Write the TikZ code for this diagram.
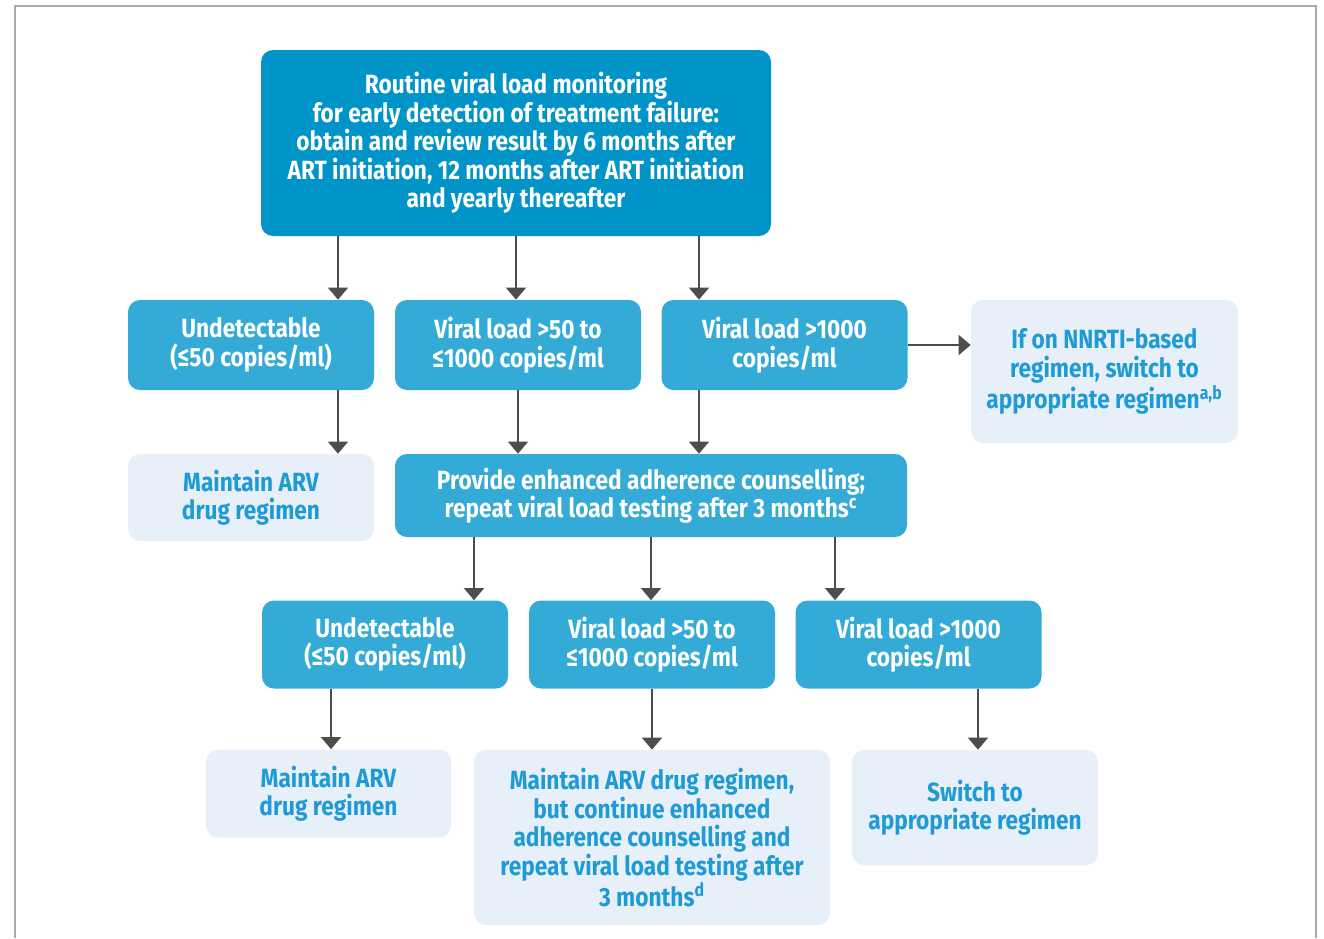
\documentclass[tikz,border=0pt]{standalone}
\usepackage{fontspec}
\setmainfont{Fira Sans}[FakeStretch=0.86]
\usetikzlibrary{arrows.meta}
\definecolor{vldark}{RGB}{0,148,200}
\definecolor{vlmid}{RGB}{51,171,214}
\definecolor{vllight}{RGB}{231,240,248}
\definecolor{vltext}{RGB}{30,155,214}
\definecolor{vlarrow}{RGB}{77,77,77}
\definecolor{vlframe}{RGB}{170,170,170}
\begin{document}
\begin{tikzpicture}[
    box/.style={rectangle, rounded corners=0.24cm, align=center, inner sep=0pt,
        minimum width=4.92cm, minimum height=1.76cm,
        font=\bfseries\fontsize{15}{16.2}\selectfont},
    darkbox/.style={box, fill=vldark, text=white},
    midbox/.style={box, fill=vlmid, text=white},
    lightbox/.style={box, fill=vllight, text=vltext},
    arr/.style={draw=vlarrow, line width=0.85pt, -{Triangle[width=0.4cm,length=0.24cm]}}
]
    \useasboundingbox (0,0) rectangle (26.48,-18.76);
    % frame
    \draw[vlframe, line width=0.04cm] (0.3,-18.76) -- (0.3,-0.12) -- (26.32,-0.12) -- (26.32,-18.76);

    % first test
    \node[darkbox, minimum width=10.2cm, minimum height=3.72cm] (monitor) at (10.32,-2.86)
        {Routine viral load monitoring\\for early detection of treatment failure:\\obtain and review result by 6 months after\\ART initiation, 12 months after ART initiation\\and yearly thereafter};
    \node[midbox, minimum height=1.8cm] (undet) at (5.02,-6.9) {Undetectable\\(≤50 copies/ml)};
    \node[midbox, minimum height=1.8cm] (midload) at (10.36,-6.9) {Viral load >50 to\\≤1000 copies/ml};
    \node[midbox, minimum height=1.8cm] (highload) at (15.69,-6.9) {Viral load >1000\\copies/ml};
    \node[lightbox, minimum width=5.34cm, minimum height=2.86cm] (nnrti) at (22.09,-7.43)
        {If on NNRTI-based\\regimen, switch to\\appropriate regimen\textsuperscript{a,b}};
    \node[lightbox, minimum height=1.74cm] (maintain) at (5.02,-9.95) {Maintain ARV\\drug regimen};
    \node[midbox, minimum width=10.24cm, minimum height=1.66cm] (counsel) at (13.02,-9.91)
        {Provide enhanced adherence counselling;\\repeat viral load testing after 3 months\textsuperscript{c}};

    % repeat test
    \node[midbox] (undetB) at (7.70,-12.89) {Undetectable\\(≤50 copies/ml)};
    \node[midbox] (midloadB) at (13.04,-12.89) {Viral load >50 to\\≤1000 copies/ml};
    \node[midbox] (highloadB) at (18.37,-12.89) {Viral load >1000\\copies/ml};
    \node[lightbox, minimum width=4.9cm] (maintainB) at (6.57,-15.87) {Maintain ARV\\drug regimen};
    \node[lightbox, minimum width=7.12cm, minimum height=3.5cm] (continue) at (13.04,-16.75)
        {Maintain ARV drug regimen,\\but continue enhanced\\adherence counselling and\\repeat viral load testing after\\3 months\textsuperscript{d}};
    \node[lightbox, minimum height=2.3cm] (switch) at (19.5,-16.15) {Switch to\\appropriate regimen};

    % arrows
    \draw[arr] ([xshift=-3.56cm]monitor.south) coordinate (a1) -- (a1 |- undet.north);
    \draw[arr] (monitor.south) -- (monitor.south |- midload.north);
    \draw[arr] ([xshift=3.66cm]monitor.south) coordinate (a2) -- (a2 |- highload.north);
    \draw[arr] (highload.east) -- (highload.east -| nnrti.west);
    \draw[arr] ([xshift=1.74cm]undet.south) coordinate (a3) -- (a3 |- maintain.north);
    \draw[arr] (midload.south) -- (midload.south |- counsel.north);
    \draw[arr] ([xshift=-1.71cm]highload.south) coordinate (a4) -- (a4 |- counsel.north);
    \draw[arr] ([xshift=-3.54cm]counsel.south) coordinate (a5) -- (a5 |- undetB.north);
    \draw[arr] (counsel.south) -- (counsel.south |- midloadB.north);
    \draw[arr] ([xshift=3.68cm]counsel.south) coordinate (a6) -- (a6 |- highloadB.north);
    \draw[arr] ([xshift=-1.08cm]undetB.south) coordinate (a7) -- (a7 |- maintainB.north);
    \draw[arr] (midloadB.south) -- (midloadB.south |- continue.north);
    \draw[arr] ([xshift=1.19cm]highloadB.south) coordinate (a8) -- (a8 |- switch.north);
\end{tikzpicture}
\end{document}
